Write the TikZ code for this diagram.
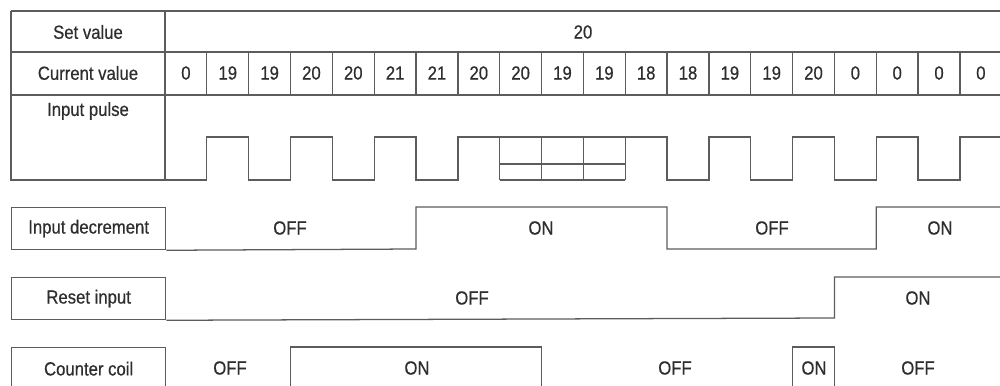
\documentclass[tikz,border=0pt]{standalone}
\usepackage{fontspec}
\setmainfont{Liberation Sans}[FakeStretch=0.88, FakeBold=0.6]
\usetikzlibrary{positioning}
\definecolor{wire}{HTML}{5C5C5C}
\definecolor{ink}{HTML}{2E2E2E}
\newcommand{\cx}[1]{165+41.84*#1}

\begin{document}
\begin{tikzpicture}[
    x=0.025cm, y=-0.025cm,
    line/.style={draw=wire, line width=0.9pt, line join=miter},
    txt/.style={font=\fontsize{13.5}{16}\selectfont, text=ink, inner sep=0pt},
    namebox/.style={draw=wire, line width=0.9pt, anchor=north west,
      minimum width=3.85cm, minimum height=1.05cm, inner sep=0pt,
      font=\fontsize{13.5}{16}\selectfont, text=ink},
  ]
  \useasboundingbox (0,0) rectangle (1000,386);
  \clip (0,0) rectangle (1000,386);

  % ── Value table ──
  \draw[line] (11,11) -- (1000,11);
  \draw[line] (11,52) -- (1000,52);
  \draw[line] (11,95) -- (1000,95);
  \draw[line] (11,11) -- (11,180) -- (165,180);
  \draw[line] (165,11) -- (165,180);
  \foreach \i in {1,...,19}
    \draw[line] ({\cx{\i}},52) -- ({\cx{\i}},95);

  \node[txt] (setlbl) at (88,32) {Set value};
  \node[txt] (curlbl) at (88,73) {Current value};
  \node[txt] (pullbl) at (88,111) {Input pulse};
  \node[txt] (setval) at (583,32) {20};

  \foreach \v [count=\i from 0] in
      {0,19,19,20,20,21,21,20,20,19,19,18,18,19,19,20,0,0,0,0}
    \node[txt] (cur\i) at ({\cx{\i}+20.92},73) {\v};

  % ── Input pulse ──
  \draw[line] (165,180)
    -- ({\cx{1}},180) -- ({\cx{1}},137) -- ({\cx{2}},137) -- ({\cx{2}},180)
    -- ({\cx{3}},180) -- ({\cx{3}},137) -- ({\cx{4}},137) -- ({\cx{4}},180)
    -- ({\cx{5}},180) -- ({\cx{5}},137) -- ({\cx{6}},137) -- ({\cx{6}},180)
    -- ({\cx{7}},180) -- ({\cx{7}},137) -- ({\cx{12}},137) -- ({\cx{12}},180)
    -- ({\cx{13}},180) -- ({\cx{13}},137) -- ({\cx{14}},137) -- ({\cx{14}},180)
    -- ({\cx{15}},180) -- ({\cx{15}},137) -- ({\cx{16}},137) -- ({\cx{16}},180)
    -- ({\cx{17}},180) -- ({\cx{17}},137) -- ({\cx{18}},137) -- ({\cx{18}},180)
    -- ({\cx{19}},180) -- ({\cx{19}},137) -- (1000,137);
  \foreach \i in {8,...,11}
    \draw[line] ({\cx{\i}},137) -- ({\cx{\i}},180);
  \draw[line] ({\cx{8}},164) -- ({\cx{11}},164);
  \draw[line] ({\cx{8}},180) -- ({\cx{11}},180);

  % ── Input decrement ──
  \node[namebox] (dec) at (11,207) {Input decrement};
  \draw[line] (dec.south east) -- ({\cx{6}},249) -- ({\cx{6}},207)
    -- ({\cx{12}},207) -- ({\cx{12}},249) -- ({\cx{17}},249)
    -- ({\cx{17}},207) -- (1000,207);
  \node[txt] (dec1) at (290,228) {OFF};
  \node[txt] (dec2) at (541,228) {ON};
  \node[txt] (dec3) at (772,228) {OFF};
  \node[txt] (dec4) at (940,228) {ON};

  % ── Reset input ──
  \node[namebox] (rst) at (11,277) {Reset input};
  \draw[line] (rst.south east) -- ({\cx{16}},318) -- ({\cx{16}},277)
    -- (1000,277);
  \node[txt] (rst1) at (472,298) {OFF};
  \node[txt] (rst2) at (918,298) {ON};

  % ── Counter coil ──
  \node[namebox] (coil) at (11,347) {Counter coil};
  \draw[line] ({\cx{3}},392) -- ({\cx{3}},347) -- ({\cx{9}},347)
    -- ({\cx{9}},392);
  \draw[line] ({\cx{15}},392) -- ({\cx{15}},347) -- ({\cx{16}},347)
    -- ({\cx{16}},392);
  \node[txt] (coil1) at (230,368) {OFF};
  \node[txt] (coil2) at (417,368) {ON};
  \node[txt] (coil3) at (675,368) {OFF};
  \node[txt] (coil4) at (814,368) {ON};
  \node[txt] (coil5) at (918,368) {OFF};

\end{tikzpicture}
\end{document}
